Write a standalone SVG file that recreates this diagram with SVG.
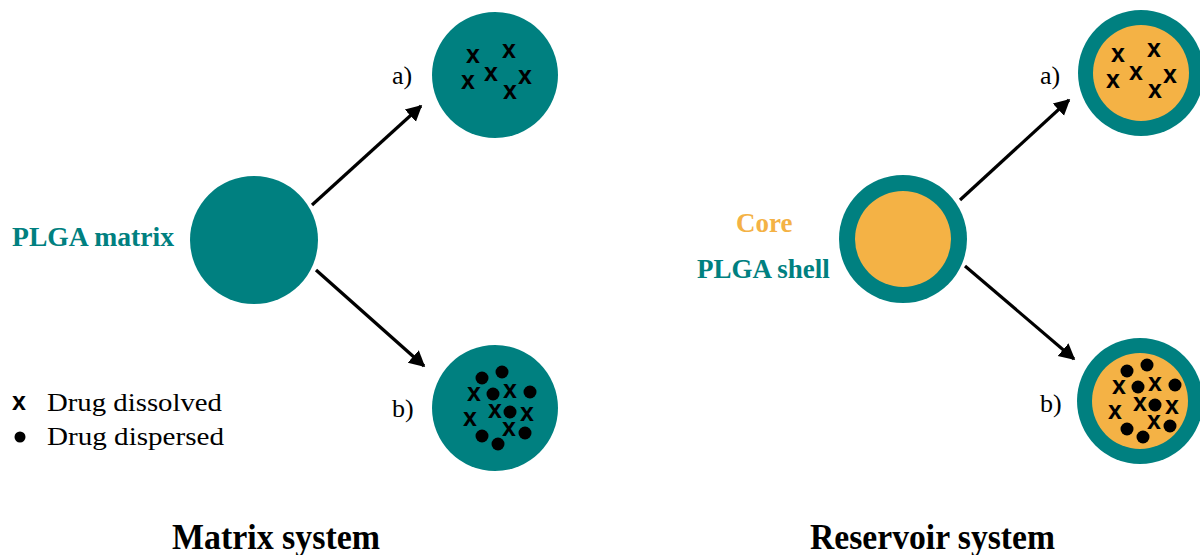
<svg xmlns="http://www.w3.org/2000/svg" width="1200" height="555" viewBox="0 0 1200 555">
<style>
.teal{fill:#008080}
.core{fill:#F4B245}
.lbl{font-family:"Liberation Serif",serif;font-size:26px;fill:#000}
.bl{font-family:"Liberation Serif",serif;font-size:27px;font-weight:bold}
.title{font-family:"Liberation Serif",serif;font-size:35px;font-weight:bold;fill:#000}
.x{font-family:"Liberation Sans",sans-serif;font-size:25px;font-weight:bold;fill:#000;text-anchor:middle}
.dot{fill:#000}
.arr{stroke:#000;stroke-width:3.2;fill:none;marker-end:url(#ah)}
</style>
<defs>
<marker id="ah" markerWidth="6" markerHeight="6" refX="4.5" refY="3" orient="auto" markerUnits="strokeWidth">
<path d="M0,0.4 L5,3 L0,5.6 Z" fill="#000"/>
</marker>
<g id="xs">
<text class="x" x="473" y="63">x</text>
<text class="x" x="509" y="58">x</text>
<text class="x" x="491" y="81">x</text>
<text class="x" x="468" y="89">x</text>
<text class="x" x="525" y="84">x</text>
<text class="x" x="510" y="99">x</text>
</g>
<g id="mix">
<circle class="dot" cx="482" cy="378" r="6.5"/>
<circle class="dot" cx="502" cy="372" r="6.5"/>
<circle class="dot" cx="493" cy="394" r="6.5"/>
<circle class="dot" cx="530" cy="392" r="6.5"/>
<circle class="dot" cx="510" cy="412" r="6.5"/>
<circle class="dot" cx="482" cy="436" r="6.5"/>
<circle class="dot" cx="525" cy="433" r="6.5"/>
<circle class="dot" cx="498" cy="444" r="6.5"/>
<text class="x" x="474" y="401">x</text>
<text class="x" x="510" y="398">x</text>
<text class="x" x="495" y="418">x</text>
<text class="x" x="527" y="421">x</text>
<text class="x" x="470" y="426">x</text>
<text class="x" x="509" y="436">x</text>
</g>
</defs>

<g id="matrix-main">
<circle class="teal" cx="254" cy="240" r="64"/>
<text class="bl" x="12" y="246" fill="#008080" textLength="162" lengthAdjust="spacingAndGlyphs">PLGA matrix</text>
</g>
<g id="matrix-a">
<circle class="teal" cx="495" cy="75" r="63"/>
<use href="#xs"/>
<text class="lbl" x="392" y="84">a)</text>
</g>
<g id="matrix-b">
<circle class="teal" cx="495" cy="408" r="63"/>
<use href="#mix"/>
<text class="lbl" x="392" y="417">b)</text>
</g>

<g id="reservoir-main">
<circle class="teal" cx="903" cy="239" r="64"/>
<circle class="core" cx="903" cy="239" r="48"/>
<text class="bl" x="736" y="232" fill="#F4B245">Core</text>
<text class="bl" x="697" y="278" fill="#008080">PLGA shell</text>
</g>
<g id="reservoir-a">
<circle class="teal" cx="1141" cy="73" r="63"/>
<circle class="core" cx="1141" cy="73" r="48"/>
<use href="#xs" transform="translate(645,-1)"/>
<text class="lbl" x="1040" y="84">a)</text>
</g>
<g id="reservoir-b">
<circle class="teal" cx="1140" cy="401" r="63"/>
<circle class="core" cx="1140" cy="401" r="48"/>
<use href="#mix" transform="translate(645,-7)"/>
<text class="lbl" x="1040" y="412">b)</text>
</g>

<g id="connectors">
<line class="arr" x1="312" y1="205" x2="421" y2="106"/>
<line class="arr" x1="316" y1="270" x2="424" y2="366"/>
<line class="arr" x1="960" y1="200" x2="1069" y2="100"/>
<line class="arr" x1="965" y1="266" x2="1074" y2="359"/>
</g>

<g id="legend">
<text class="x" x="19" y="410">x</text>
<text class="lbl" x="47" y="411" textLength="175" lengthAdjust="spacingAndGlyphs">Drug dissolved</text>
<circle class="dot" cx="20" cy="437" r="5.5"/>
<text class="lbl" x="47" y="445" textLength="177" lengthAdjust="spacingAndGlyphs">Drug dispersed</text>
</g>

<g id="titles">
<text class="title" x="172" y="549" textLength="208" lengthAdjust="spacingAndGlyphs">Matrix system</text>
<text class="title" x="810" y="549" textLength="245" lengthAdjust="spacingAndGlyphs">Reservoir system</text>
</g>
</svg>
